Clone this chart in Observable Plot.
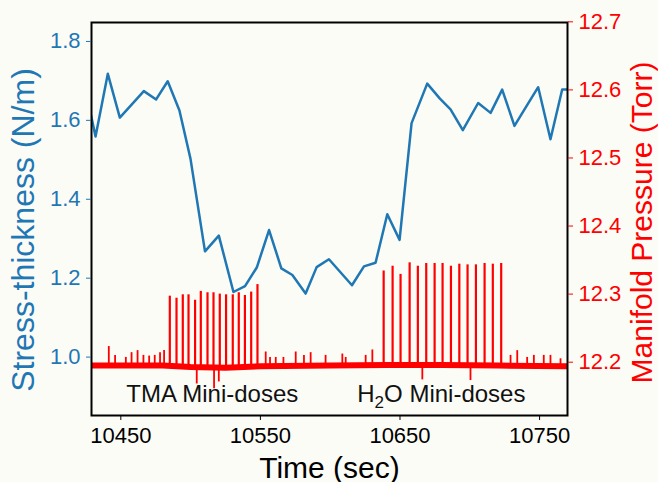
<!DOCTYPE html>
<html><head><meta charset="utf-8">
<script src="https://cdn.jsdelivr.net/npm/d3@7"></script>
<script src="https://cdn.jsdelivr.net/npm/@observablehq/plot@0.6"></script>
<style>html,body{margin:0;padding:0;background:#fcfcf7;}</style>
</head><body><div id="chart"></div>
<script>
// Stress-thickness (left axis, N/m)
const stressTime = [10424, 10431.9, 10440.7, 10449.3, 10466.5, 10475.3, 10483.6, 10492.0, 10499.9, 10510.3, 10520.2, 10530.7, 10539.0, 10547.4, 10556.2, 10565.0, 10572.9, 10582.4, 10590.3, 10599.1, 10615.6, 10624.2, 10632.5, 10640.9, 10649.7, 10658.3, 10669.5, 10678.6, 10686.2, 10695.0, 10706.0, 10714.9, 10723.2, 10732.0, 10740.4, 10749.0, 10757.8, 10766.2, 10775];
const stressValue = [1.69, 1.559, 1.718, 1.607, 1.674, 1.653, 1.699, 1.625, 1.503, 1.268, 1.308, 1.165, 1.180, 1.227, 1.322, 1.225, 1.208, 1.161, 1.228, 1.248, 1.182, 1.230, 1.239, 1.362, 1.297, 1.593, 1.693, 1.655, 1.628, 1.575, 1.644, 1.619, 1.678, 1.586, 1.635, 1.684, 1.552, 1.678, 1.678];

// Manifold pressure (right axis, Torr)
const baseTime = [10429, 10480, 10500, 10525, 10550, 10600, 10640, 10680, 10720, 10770];
const baseValue = [12.195, 12.195, 12.193, 12.192, 12.194, 12.195, 12.196, 12.196, 12.195, 12.194];
const tmaTime = [10485.1, 10489.9, 10494.4, 10498.5, 10503.2, 10507.3, 10512.1, 10516.4, 10520.9, 10525.4, 10530.2, 10534.5, 10538.9, 10543.4, 10547.9];
const tmaPeak = [12.297, 12.294, 12.299, 12.299, 12.291, 12.304, 12.302, 12.302, 12.300, 12.299, 12.299, 12.302, 12.298, 12.303, 12.314];
const h2oTime = [10638.3, 10644.7, 10650.4, 10656.9, 10662.8, 10668.8, 10674.8, 10680.5, 10686.5, 10692.5, 10698.4, 10704.4, 10710.6, 10716.5, 10722.5];
const h2oPeak = [12.334, 12.341, 12.329, 12.346, 12.341, 12.345, 12.345, 12.345, 12.341, 12.344, 12.343, 12.343, 12.345, 12.344, 12.345];
const bumpTime = [10441.4, 10445.9, 10453.6, 10457.7, 10462.0, 10466.2, 10470.3, 10474.3, 10478.1, 10481.0, 10553.8, 10556.9, 10561.0, 10566.5, 10575.3, 10581.2, 10586.0, 10596.7, 10608.7, 10611.1, 10625.4, 10630.2, 10729.2, 10734.0, 10741.1, 10745.9, 10753.0, 10757.8, 10765.0];
const bumpPeak = [12.223, 12.210, 12.207, 12.214, 12.217, 12.210, 12.209, 12.210, 12.214, 12.217, 12.215, 12.207, 12.207, 12.207, 12.215, 12.210, 12.214, 12.210, 12.212, 12.207, 12.210, 12.218, 12.210, 12.217, 12.207, 12.210, 12.210, 12.210, 12.205];
const dipTime = [10504.4, 10516.8, 10520.2, 10666.0, 10700.5];
const dipLow = [12.168, 12.161, 12.171, 12.174, 12.173];

// Axes
const xTicks = [10450, 10550, 10650, 10750];
const leftTicks = [1.0, 1.2, 1.4, 1.6, 1.8];
const rightTicks = [12.2, 12.3, 12.4, 12.5, 12.6, 12.7];
const xDomain = [10429, 10770];
const leftDomain = [0.852, 1.848];
const rightDomain = [12.1217, 12.699];
const xLabel = "Time (sec)";
const leftLabel = "Stress-thickness (N/m)";
const rightLabel = "Manifold Pressure (Torr)";
const noteTMA = "TMA Mini-doses";
const noteH2O = ["H", "2", "O Mini-doses"];

const BLUE = "#1f77b4", RED = "#ff0000";
const toLeft = p => leftDomain[0] + (p - rightDomain[0]) * (leftDomain[1] - leftDomain[0]) / (rightDomain[1] - rightDomain[0]);
const fromLeft = v => rightDomain[0] + (v - leftDomain[0]) * (rightDomain[1] - rightDomain[0]) / (leftDomain[1] - leftDomain[0]);

const spikes = [...tmaTime.map((t, i) => ({t, p: tmaPeak[i]})), ...h2oTime.map((t, i) => ({t, p: h2oPeak[i]}))];
const bumps = bumpTime.map((t, i) => ({t, p: bumpPeak[i]}));
const dips = dipTime.map((t, i) => ({t, p: dipLow[i]}));
const base = baseTime.map((t, i) => ({t, p: baseValue[i]}));
const baseAt = 12.195;

const chart = Plot.plot({
  width: 658, height: 482,
  marginLeft: 91, marginRight: 91, marginTop: 22, marginBottom: 67,
  x: {domain: xDomain},
  y: {domain: leftDomain},
  style: {background: "#fcfcf7", fontFamily: "'Liberation Sans', Arial, sans-serif", overflow: "visible"},
  marks: [
    Plot.line(stressValue, {x: stressTime, y: stressValue, stroke: BLUE, strokeWidth: 2.5, clip: true}),
    Plot.line(base, {x: "t", y: d => toLeft(d.p), stroke: RED, strokeWidth: 6, clip: true}),
    Plot.ruleX(bumps, {x: "t", y1: d => toLeft(baseAt), y2: d => toLeft(d.p), stroke: RED, strokeWidth: 1.8}),
    Plot.ruleX(dips, {x: "t", y1: d => toLeft(baseAt), y2: d => toLeft(d.p), stroke: RED, strokeWidth: 1.8}),
    Plot.ruleX(spikes, {x: "t", y1: d => toLeft(baseAt), y2: d => toLeft(d.p), stroke: RED, strokeWidth: 2.2}),
    Plot.frame({stroke: "black", strokeWidth: 2}),
    Plot.axisX(xTicks, {anchor: "bottom", tickFormat: d => String(d), fontSize: 22, tickSize: 5, tickPadding: 7, color: "black", label: null}),
    Plot.axisY(leftTicks, {anchor: "left", tickFormat: d => d.toFixed(1), fontSize: 22, tickSize: 5, tickPadding: 6, color: BLUE, label: null}),
    Plot.axisY(rightTicks.map(toLeft), {anchor: "right", tickFormat: d => fromLeft(d).toFixed(1), fontSize: 22, tickSize: 5, tickPadding: 6, color: RED, label: null}),
    Plot.text([leftLabel], {frameAnchor: "left", text: d => d, rotate: -90, textAnchor: "middle", lineAnchor: "middle", dx: -68.2, dy: 11, fontSize: 32, fill: BLUE}),
    Plot.text([rightLabel], {frameAnchor: "right", text: d => d, rotate: -90, textAnchor: "middle", lineAnchor: "middle", dx: 74.5, dy: 3.5, fontSize: 30, fill: RED}),
    Plot.text([xLabel], {frameAnchor: "bottom", text: d => d, textAnchor: "middle", lineAnchor: "middle", dy: 52.4, fontSize: 30, fill: "black"}),
    Plot.text([noteTMA], {x: [10515.5], y: [0.905], text: d => d, fontSize: 24, fill: "#111"}),
    Plot.text([noteH2O[0]], {x: [10619.4], y: [0.905], text: d => d, textAnchor: "start", fontSize: 24, fill: "#111"}),
    Plot.text([noteH2O[1]], {x: [10619.4], y: [0.905], text: d => d, textAnchor: "start", dx: 17.3, dy: 8, fontSize: 17, fill: "#111"}),
    Plot.text([noteH2O[2]], {x: [10619.4], y: [0.905], text: d => d, textAnchor: "start", dx: 26.8, fontSize: 24, fill: "#111"})
  ]
});
document.getElementById("chart").append(chart);
</script>
</body></html>
